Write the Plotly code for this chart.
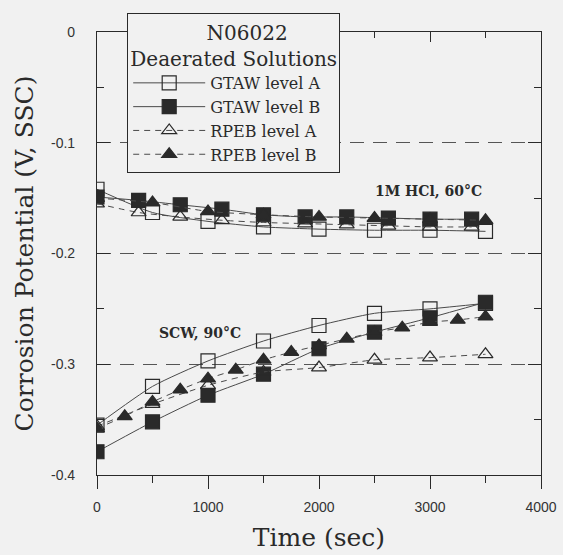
import plotly.graph_objects as go

# ---- data ----
t500 = [0, 500, 1000, 1500, 2000, 2500, 3000, 3500]
t375 = [0, 375, 750, 1125, 1500, 1875, 2250, 2625, 3000, 3375]
t250 = [0, 250, 500, 750, 1000, 1250, 1500, 1750, 2000, 2250, 2500, 2750, 3000, 3250, 3500]

# 1M HCl, 60 C
hcl_gtaw_a = [-0.142, -0.163, -0.171, -0.176, -0.178, -0.179, -0.179, -0.180]
hcl_gtaw_b = [-0.149, -0.152, -0.156, -0.160, -0.165, -0.167, -0.167, -0.168, -0.169, -0.169]
hcl_rpeb_a = [-0.155, -0.163, -0.167, -0.170, -0.172, -0.173, -0.174, -0.175, -0.176, -0.176]
hcl_rpeb_b = [-0.150, -0.154, -0.162, -0.165, -0.167, -0.168, -0.169, -0.170]

# SCW, 90 C
scw_gtaw_a = [-0.355, -0.320, -0.297, -0.279, -0.265, -0.254, -0.250, -0.245]
scw_gtaw_b = [-0.379, -0.352, -0.328, -0.309, -0.286, -0.271, -0.258, -0.244]
scw_rpeb_a = [-0.356, -0.336, -0.319, -0.307, -0.303, -0.296, -0.294, -0.291]
scw_rpeb_b = [-0.358, -0.347, -0.334, -0.323, -0.313, -0.305, -0.296, -0.289,
              -0.283, -0.277, -0.271, -0.267, -0.262, -0.260, -0.257]

series_names = ["GTAW level A", "GTAW level B", "RPEB level A", "RPEB level B"]
x_tickvals = [0, 1000, 2000, 3000, 4000]
x_ticktext = ["0", "1000", "2000", "3000", "4000"]
y_tickvals = [0, -0.1, -0.2, -0.3, -0.4]
y_ticktext = ["0", "-0.1", "-0.2", "-0.3", "-0.4"]

INK = "#2a2a2a"
LINE = "#4a4a4a"
BG = "#f1f1f1"
SERIF = "DejaVu Serif, Liberation Serif, serif"
SANS = "Liberation Sans, Arial, sans-serif"

styles = [
    dict(symbol="square-open", dash="solid"),
    dict(symbol="square", dash="solid"),
    dict(symbol="triangle-up-open", dash="dash"),
    dict(symbol="triangle-up", dash="dash"),
]

groups = [
    [(t500, hcl_gtaw_a), (t500, scw_gtaw_a)],
    [(t375, hcl_gtaw_b), (t500, scw_gtaw_b)],
    [(t375, hcl_rpeb_a), (t500, scw_rpeb_a)],
    [(t500, hcl_rpeb_b), (t250, scw_rpeb_b)],
]

fig = go.Figure()
for i, (name, st, grp) in enumerate(zip(series_names, styles, groups)):
    for j, (tx, vy) in enumerate(grp):
        sz = 14 if "square" in st["symbol"] else 13
        fig.add_trace(go.Scatter(
            x=tx, y=vy, name=name, legendgroup=name, showlegend=(j == 0),
            mode="lines+markers",
            line=dict(color=LINE, width=1, dash=("6px,5px" if st["dash"] == "dash" else "solid"),
                      shape="spline", smoothing=0.6),
            marker=dict(symbol=st["symbol"], size=sz, color=INK,
                        line=dict(color=INK, width=1.2)),
        ))

# invisible trace for top axis
fig.add_trace(go.Scatter(x=[0], y=[0], xaxis="x2", mode="markers",
                         marker=dict(opacity=0), showlegend=False, hoverinfo="skip"))

fig.add_annotation(x=2990, y=-0.144, text="<b>1M HCl, 60°C</b>", showarrow=False,
                   font=dict(family=SERIF, size=14, color=INK))
fig.add_annotation(x=928, y=-0.272, text="<b>SCW, 90°C</b>", showarrow=False,
                   font=dict(family=SERIF, size=14, color=INK))

pad = "&nbsp;" * 12
fig.update_layout(
    width=563, height=555,
    margin=dict(l=97, r=22, t=32, b=80, autoexpand=False),
    paper_bgcolor=BG, plot_bgcolor=BG,
    showlegend=True,
    legend=dict(
        x=0.068, y=1.043, xanchor="left", yanchor="top",
        bgcolor=BG, bordercolor=INK, borderwidth=1,
        font=dict(family=SERIF, size=16, color=INK),
        title=dict(text=pad + "N06022<br>Deaerated Solutions", side="top center",
                   font=dict(family=SERIF, size=20, color=INK)),
        traceorder="normal", itemwidth=72, tracegroupgap=0,
    ),
    xaxis=dict(
        range=[0, 4000], tickvals=x_tickvals, ticktext=x_ticktext,
        ticks="outside", ticklen=13, tickwidth=1, tickcolor=INK,
        minor=dict(dtick=500, ticks="outside", ticklen=7, tickcolor=INK),
        showline=True, linecolor=INK, linewidth=1.2, mirror=True,
        showgrid=False, zeroline=False, ticklabelstandoff=6,
        tickfont=dict(family=SANS, size=14, color="#333"),
        title=dict(text="Time (sec)", font=dict(family=SERIF, size=25, color=INK), standoff=14),
    ),
    xaxis2=dict(
        range=[0, 4000], overlaying="x", side="top", matches="x",
        tickvals=x_tickvals, showticklabels=False,
        ticks="inside", ticklen=10, tickcolor=INK,
        minor=dict(dtick=500, ticks="inside", ticklen=6, tickcolor=INK),
        showline=False, showgrid=False, zeroline=False,
    ),
    yaxis=dict(
        range=[-0.4, 0], tickvals=y_tickvals, ticktext=y_ticktext,
        ticks="inside", ticklen=13, tickwidth=1, tickcolor=INK,
        minor=dict(dtick=0.05, ticks="inside", ticklen=7, tickcolor=INK, showgrid=False),
        showline=True, linecolor=INK, linewidth=1.2, mirror="ticks",
        showgrid=True, gridcolor="#555", gridwidth=1, griddash="14px,9px",
        zeroline=False, ticklabelstandoff=18,
        tickfont=dict(family=SANS, size=14, color="#333"),
        title=dict(text="Corrosion Potential (V, SSC)",
                   font=dict(family=SERIF, size=25, color=INK), standoff=10),
    ),
)

fig.write_html(
    "out.html",
    config={"displayModeBar": False},
    post_script="document.body.style.margin='0';document.body.style.background='#f1f1f1';",
)
